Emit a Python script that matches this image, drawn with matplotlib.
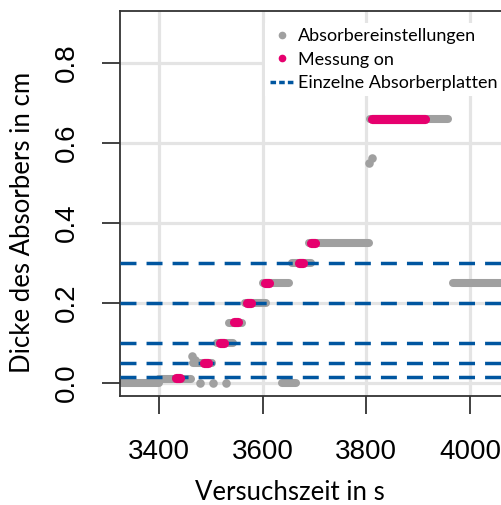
import matplotlib
matplotlib.use("Agg")
import matplotlib.pyplot as plt
from matplotlib.lines import Line2D

# ---------------- data ----------------
# gray "Absorbereinstellungen" runs (dense settings, start/end in s, level in cm)
gray_start = [3325, 3400, 3465, 3511, 3536, 3565, 3600, 3657, 3690, 3638, 3808, 3967]
gray_end   = [3400, 3462, 3503, 3542, 3561, 3607, 3651, 3693, 3805, 3665, 3958, 4070]
gray_level = [0.0, 0.01, 0.05, 0.10, 0.15, 0.20, 0.25, 0.30, 0.35, 0.0, 0.66, 0.25]
# isolated gray settings
gray_pt_x = [3479, 3505, 3530, 3463, 3469, 3805, 3811]
gray_pt_y = [0.0, 0.0, 0.0, 0.068, 0.058, 0.55, 0.563]
# pink "Messung on" runs
pink_start = [3432, 3486, 3517, 3545, 3570, 3605, 3670, 3693, 3810]
pink_end   = [3440, 3494, 3525, 3553, 3578, 3613, 3678, 3701, 3914]
pink_level = [0.012, 0.05, 0.10, 0.152, 0.20, 0.25, 0.30, 0.35, 0.66]
# single absorber plate thicknesses
plates = [0.015, 0.05, 0.10, 0.20, 0.30]

xticks = [3400, 3600, 3800, 4000]
yticks = [0.0, 0.2, 0.4, 0.6, 0.8]

GRAY = "#a0a0a0"
PINK = "#e6006e"
BLUE = "#0056a0"
GRID = "#e4e4e4"

W, H = 502, 505
fig = plt.figure(figsize=(W / 100, H / 100), dpi=100)
ax = fig.add_axes([120 / W, (H - 396) / H, (W - 120) / W, (396 - 11) / H])
ax.set_xlim(3324.8, 4061.7)
ax.set_ylim(-0.0325, 0.93)

# grid
for xv in xticks:
    ax.axvline(xv, color=GRID, lw=2.3, zorder=0)
for yv in yticks:
    ax.axhline(yv, color=GRID, lw=2.3, zorder=0)

# gray settings
for s, e, lv in zip(gray_start, gray_end, gray_level):
    ax.plot([s, e], [lv, lv], color=GRAY, lw=5.8, solid_capstyle="round", zorder=2)
ax.scatter(gray_pt_x, gray_pt_y, s=38, color=GRAY, marker="o", linewidths=0, zorder=2)

# plates
for p in plates:
    ax.axhline(p, color=BLUE, lw=2.5, dashes=(4.6, 2.9), zorder=3)

# pink measurement
for s, e, lv in zip(pink_start, pink_end, pink_level):
    ax.plot([s, e], [lv, lv], color=PINK, lw=6.6, solid_capstyle="round", zorder=4)

# spines and ticks
ax.spines["right"].set_visible(False)
for sp in ["left", "top", "bottom"]:
    ax.spines[sp].set_linewidth(1.3)
    ax.spines[sp].set_color("#333333")
ax.set_xticks(xticks)
ax.set_yticks(yticks)
ax.set_xticklabels([str(v) for v in xticks], fontsize=20, family="Liberation Sans")
ax.set_yticklabels([f"{v:.1f}" for v in yticks], fontsize=20, family="Liberation Sans",
                   rotation=90, va="center")
ax.tick_params(axis="both", direction="out", length=13, width=1.3, color="#333333")
ax.tick_params(axis="x", pad=18)
ax.tick_params(axis="y", pad=16)

fig.text(290 / W, 1 - 492 / H, "Versuchszeit in s", fontsize=18.5, family="Lato",
         ha="center", va="center")
fig.text(23 / W, 1 - 222 / H, "Dicke des Absorbers in cm", fontsize=18.5, family="Lato",
         ha="center", va="center", rotation=90)

handles = [
    Line2D([], [], color=GRAY, marker="o", ls="none", markersize=4.5),
    Line2D([], [], color=PINK, marker="o", ls="none", markersize=4.5),
    Line2D([], [], color=BLUE, lw=2.5, dashes=(1.6, 0.9)),
]
labels = ["Absorbereinstellungen", "Messung on", "Einzelne Absorberplatten"]
leg = ax.legend(handles, labels, loc="upper left", bbox_to_anchor=(265 / W, 1 - 23 / H),
                bbox_transform=fig.transFigure, frameon=True, fancybox=False,
                facecolor="white", edgecolor="none", framealpha=1, borderpad=0.3,
                borderaxespad=0, handlelength=1.33, handletextpad=0.22, labelspacing=0.40,
                prop={"family": "Lato", "size": 13})
leg.set_zorder(6)

fig.savefig("out.png", dpi=100)
